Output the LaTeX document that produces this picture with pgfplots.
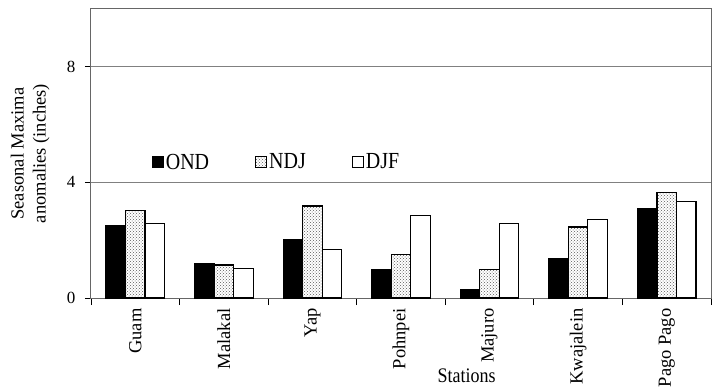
\documentclass[border=0pt]{standalone}
\usepackage{pgfplots}
\pgfplotsset{compat=1.18}
\usepackage{pgfplotstable}
\usepackage{fontspec}
\setmainfont{Liberation Serif}
\usetikzlibrary{patterns}
\pgfplotsset{sqlegend/.style={legend image code/.code={\draw[##1, line width=1pt] (0pt,-5.5pt) rectangle (11pt,5.5pt);}}}
\pgfplotstableread{
x OND NDJ DJF
0 2.49 3.03 2.59
1 1.18 1.14 1.03
2 2.03 3.18 1.69
3 1.00 1.50 2.86
4 0.29 0.98 2.59
5 1.35 2.46 2.72
6 3.10 3.66 3.35
}\datatable
\begin{document}
\begin{tikzpicture}[x=1pt,y=1pt]
\path[use as bounding box] (0,0) rectangle (718,386);
\begin{axis}[
  at={(91pt,88pt)}, anchor=south west,
  scale only axis, width=620pt, height=289pt,
  ybar=0pt, bar width=19.5pt,
  xmin=-0.5, xmax=6.5, ymin=0, ymax=10,
  ytick={0,4,8},
  ymajorgrids, grid style={draw=gray, line width=1pt},
  axis line style={draw=black!60, line width=1pt},
  xtick={0,...,6},
  xticklabels={Guam,Malakal,Yap,Pohnpei,Majuro,Kwajalein,Pago Pago},
  x tick label style={rotate=90, anchor=east, font=\fontsize{18.5}{18.5}\selectfont, xshift=-1pt},
  y tick label style={font=\fontsize{17}{17}\selectfont, xshift=-6pt},
  /pgf/number format/assume math mode=true,
  major x tick style={draw=none},
  minor xtick={-0.5,0.5,...,6.5},
  minor x tick style={draw=black, line width=0.8pt},
  minor tick length=7pt,
  major tick length=6pt,
  tick align=outside,
  xtick pos=bottom, ytick pos=left,
  y tick style={draw=black, line width=0.8pt},
  xlabel={\scalebox{1}[1.15]{Stations}},
  xlabel style={at={(axis description cs:0.606,-0.27)}, anchor=center, font=\fontsize{18}{18}\selectfont},
  ylabel={Seasonal Maxima\\anomalies (inches)},
  ylabel style={at={(axis description cs:-0.098,0.5)}, anchor=center, align=center, font=\fontsize{18.5}{22}\selectfont},
  legend columns=3,
  legend style={at={(axis description cs:0.093,0.47)}, anchor=west, draw=none, fill=none,
    font=\fontsize{20}{20}\selectfont,
    /tikz/every even column/.append style={column sep=44pt}},
]
\addplot[fill=black, draw=black, line width=1.2pt, sqlegend]
  table[x=x, y=OND] {\datatable};
\addlegendentry{\scalebox{1}[1.15]{OND}}
\addplot[pattern=crosshatch dots, pattern color=black!65, draw=black, line width=1.2pt, sqlegend]
  table[x=x, y=NDJ] {\datatable};
\addlegendentry{\scalebox{1}[1.15]{NDJ}}
\addplot[fill=white, draw=black, line width=1.2pt, sqlegend]
  table[x=x, y=DJF] {\datatable};
\addlegendentry{\scalebox{1}[1.15]{DJF}}
\end{axis}
\end{tikzpicture}
\end{document}
